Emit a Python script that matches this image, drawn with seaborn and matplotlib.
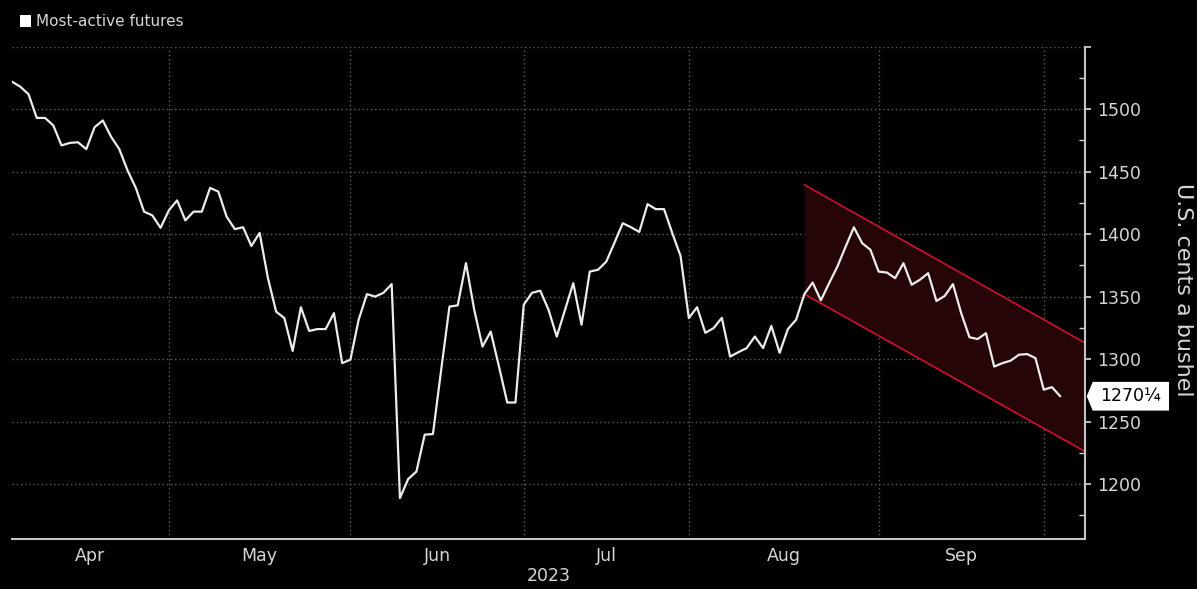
import numpy as np
import pandas as pd
import matplotlib
matplotlib.use("Agg")
import matplotlib.pyplot as plt
import matplotlib.transforms as mtransforms
from matplotlib.patches import Polygon, Rectangle
import seaborn as sns

# Most-active soybean futures, U.S. cents a bushel, one value per trading day
start_date = "2023-04-03"
end_date = "2023-10-04"
holidays = ["2023-04-07", "2023-05-29", "2023-06-19", "2023-07-04", "2023-09-04"]

prices = [
    1522, 1518, 1512, 1493, 1493, 1487, 1471, 1473, 1473.5, 1468,
    1485.5, 1491, 1478, 1468, 1451, 1437, 1418, 1415, 1405, 1419,
    1427, 1411, 1418, 1418, 1437, 1434, 1414, 1404, 1405.5, 1390.5,
    1401, 1365, 1338, 1332.75, 1306.5, 1341.5, 1322.5, 1324, 1324, 1336.75,
    1296.75, 1299.5, 1331.5, 1352, 1350, 1353, 1360, 1188.75, 1204, 1210,
    1239.5, 1240, 1291.5, 1342, 1343, 1376.75, 1339.5, 1310, 1322, 1294,
    1265.25, 1265.25, 1343.5, 1353, 1354.75, 1339.5, 1318, 1339.5, 1360.75, 1327.5,
    1370, 1371.5, 1378, 1393.25, 1408.75, 1405.5, 1401.75, 1424, 1420, 1420,
    1400.75, 1382.5, 1332.75, 1341.5, 1321, 1324.75, 1333, 1302, 1305.5, 1308.75,
    1318, 1308.75, 1326.5, 1305, 1324, 1331.5, 1352, 1361.25, 1347, 1360.75,
    1374, 1390, 1405.5, 1392.75, 1387.5, 1370, 1369.25, 1364.75, 1376.75, 1359.5,
    1363.5, 1368.75, 1346.5, 1350.5, 1360, 1336.75, 1317.5, 1316, 1320.75, 1294,
    1296.75, 1298.75, 1303.5, 1304, 1300.75, 1275.5, 1277.5, 1270.25,
]

# downtrend channel (trading-day index, upper / lower bound)
channel_idx = [96, 130]
channel_upper = [1439.5, 1313]
channel_lower = [1352, 1226]

month_names = ["Apr", "May", "Jun", "Jul", "Aug", "Sep"]
y_labels = [1200, 1250, 1300, 1350, 1400, 1450, 1500]

BG = "#000000"
FG = "#d6d6d6"
GRID = "#5c5c5c"
RED = "#d0102e"
FILL = "#260509"

dates = pd.bdate_range(start_date, end_date)
dates = dates[~dates.isin(pd.to_datetime(holidays))]
df = pd.DataFrame({"date": dates, "price": prices})
df["idx"] = np.arange(len(df))

# first trading day of each month -> boundaries, midpoints -> labels
firsts = df.groupby(df["date"].dt.to_period("M"))["idx"].min().tolist()
boundaries = firsts[1:]
mids = [(a + b) / 2 for a, b in zip(firsts[:-1], firsts[1:])]

sns.set_theme(style="dark")
plt.rcParams["font.family"] = ["DejaVu Sans"]

fig = plt.figure(figsize=(11.97, 5.89), dpi=100, facecolor=BG)
W, H = 1197, 589
ax = fig.add_axes([12 / W, 1 - 539 / H, (1085 - 12) / W, (539 - 46.7) / H])
ax.set_facecolor(BG)

# channel
ax.fill_between(channel_idx, channel_lower, channel_upper, color=FILL, lw=0, zorder=1)
ax.plot(channel_idx, channel_upper, color=RED, lw=1.2, zorder=2)
ax.plot(channel_idx, channel_lower, color=RED, lw=1.2, zorder=2)

sns.lineplot(data=df, x="idx", y="price", ax=ax, color="#ececec", linewidth=1.6, zorder=3)

ax.set_xlim(0, 130)
ax.set_ylim(1156, 1550)

# grid
for yv in range(1200, 1551, 50):
    ax.axhline(yv, color=GRID, lw=1, ls=(0, (1, 2)), zorder=0)
for xv in boundaries:
    ax.axvline(xv, color=GRID, lw=1, ls=(0, (1, 2)), zorder=0)

# x axis
ax.set_xticks(boundaries)
ax.set_xticklabels([])
ax.set_xticks(mids[:len(month_names)], minor=True)
ax.set_xticklabels(month_names, minor=True)
ax.tick_params(axis="x", which="major", direction="out", length=4, width=1, color=FG)
ax.tick_params(axis="x", which="minor", length=0, pad=6, labelsize=12.5, labelcolor=FG)
ax.set_xlabel("")
ax.text(0.5, -0.076, "2023", transform=ax.transAxes, ha="center", va="center",
        color=FG, fontsize=12.5)

# y axis on the right
ax.yaxis.tick_right()
ax.set_yticks(list(range(1200, 1551, 50)))
ax.set_yticklabels([str(v) for v in y_labels] + [""])
ax.set_yticks(list(range(1175, 1550, 50)), minor=True)
ax.tick_params(axis="y", which="major", direction="out", length=4, width=1.2,
               color=FG, pad=5, labelsize=12.5, labelcolor=FG)
ax.tick_params(axis="y", which="minor", direction="in", length=4, width=1, color=FG)
ax.set_ylabel("")
fig.text(1183 / W, 1 - 290 / H, "U.S. cents a bushel", rotation=270, ha="center",
         va="center", color=FG, fontsize=16)

for side in ["top", "left"]:
    ax.spines[side].set_visible(False)
for side in ["bottom", "right"]:
    ax.spines[side].set_color("#c4c4c4")
    ax.spines[side].set_linewidth(1.5)

# last value tag
last = prices[-1]
trans = mtransforms.blended_transform_factory(ax.transAxes, ax.transData)
x_tip, x_left, x_right = 1.0016, 1.0072, 1.0783
half = 11.5
tag = Polygon([[x_tip, last], [x_left, last + half], [x_right, last + half],
               [x_right, last - half], [x_left, last - half]],
              closed=True, transform=trans, facecolor="white", edgecolor="none",
              clip_on=False, zorder=5)
ax.add_patch(tag)
ax.text((x_left + x_right) / 2, last, "1270\u00bc", transform=trans, ha="center",
        va="center", color="black", fontsize=12.5, zorder=6, clip_on=False)

# legend
fig.patches.append(Rectangle((20 / W, 1 - 27 / H), 11 / W, 12 / H, transform=fig.transFigure,
                             facecolor="white", edgecolor="none"))
fig.text(36 / W, 1 - 21 / H, "Most-active futures", ha="left", va="center",
         color=FG, fontsize=11)

fig.savefig("out.png", dpi=100, facecolor=BG)
